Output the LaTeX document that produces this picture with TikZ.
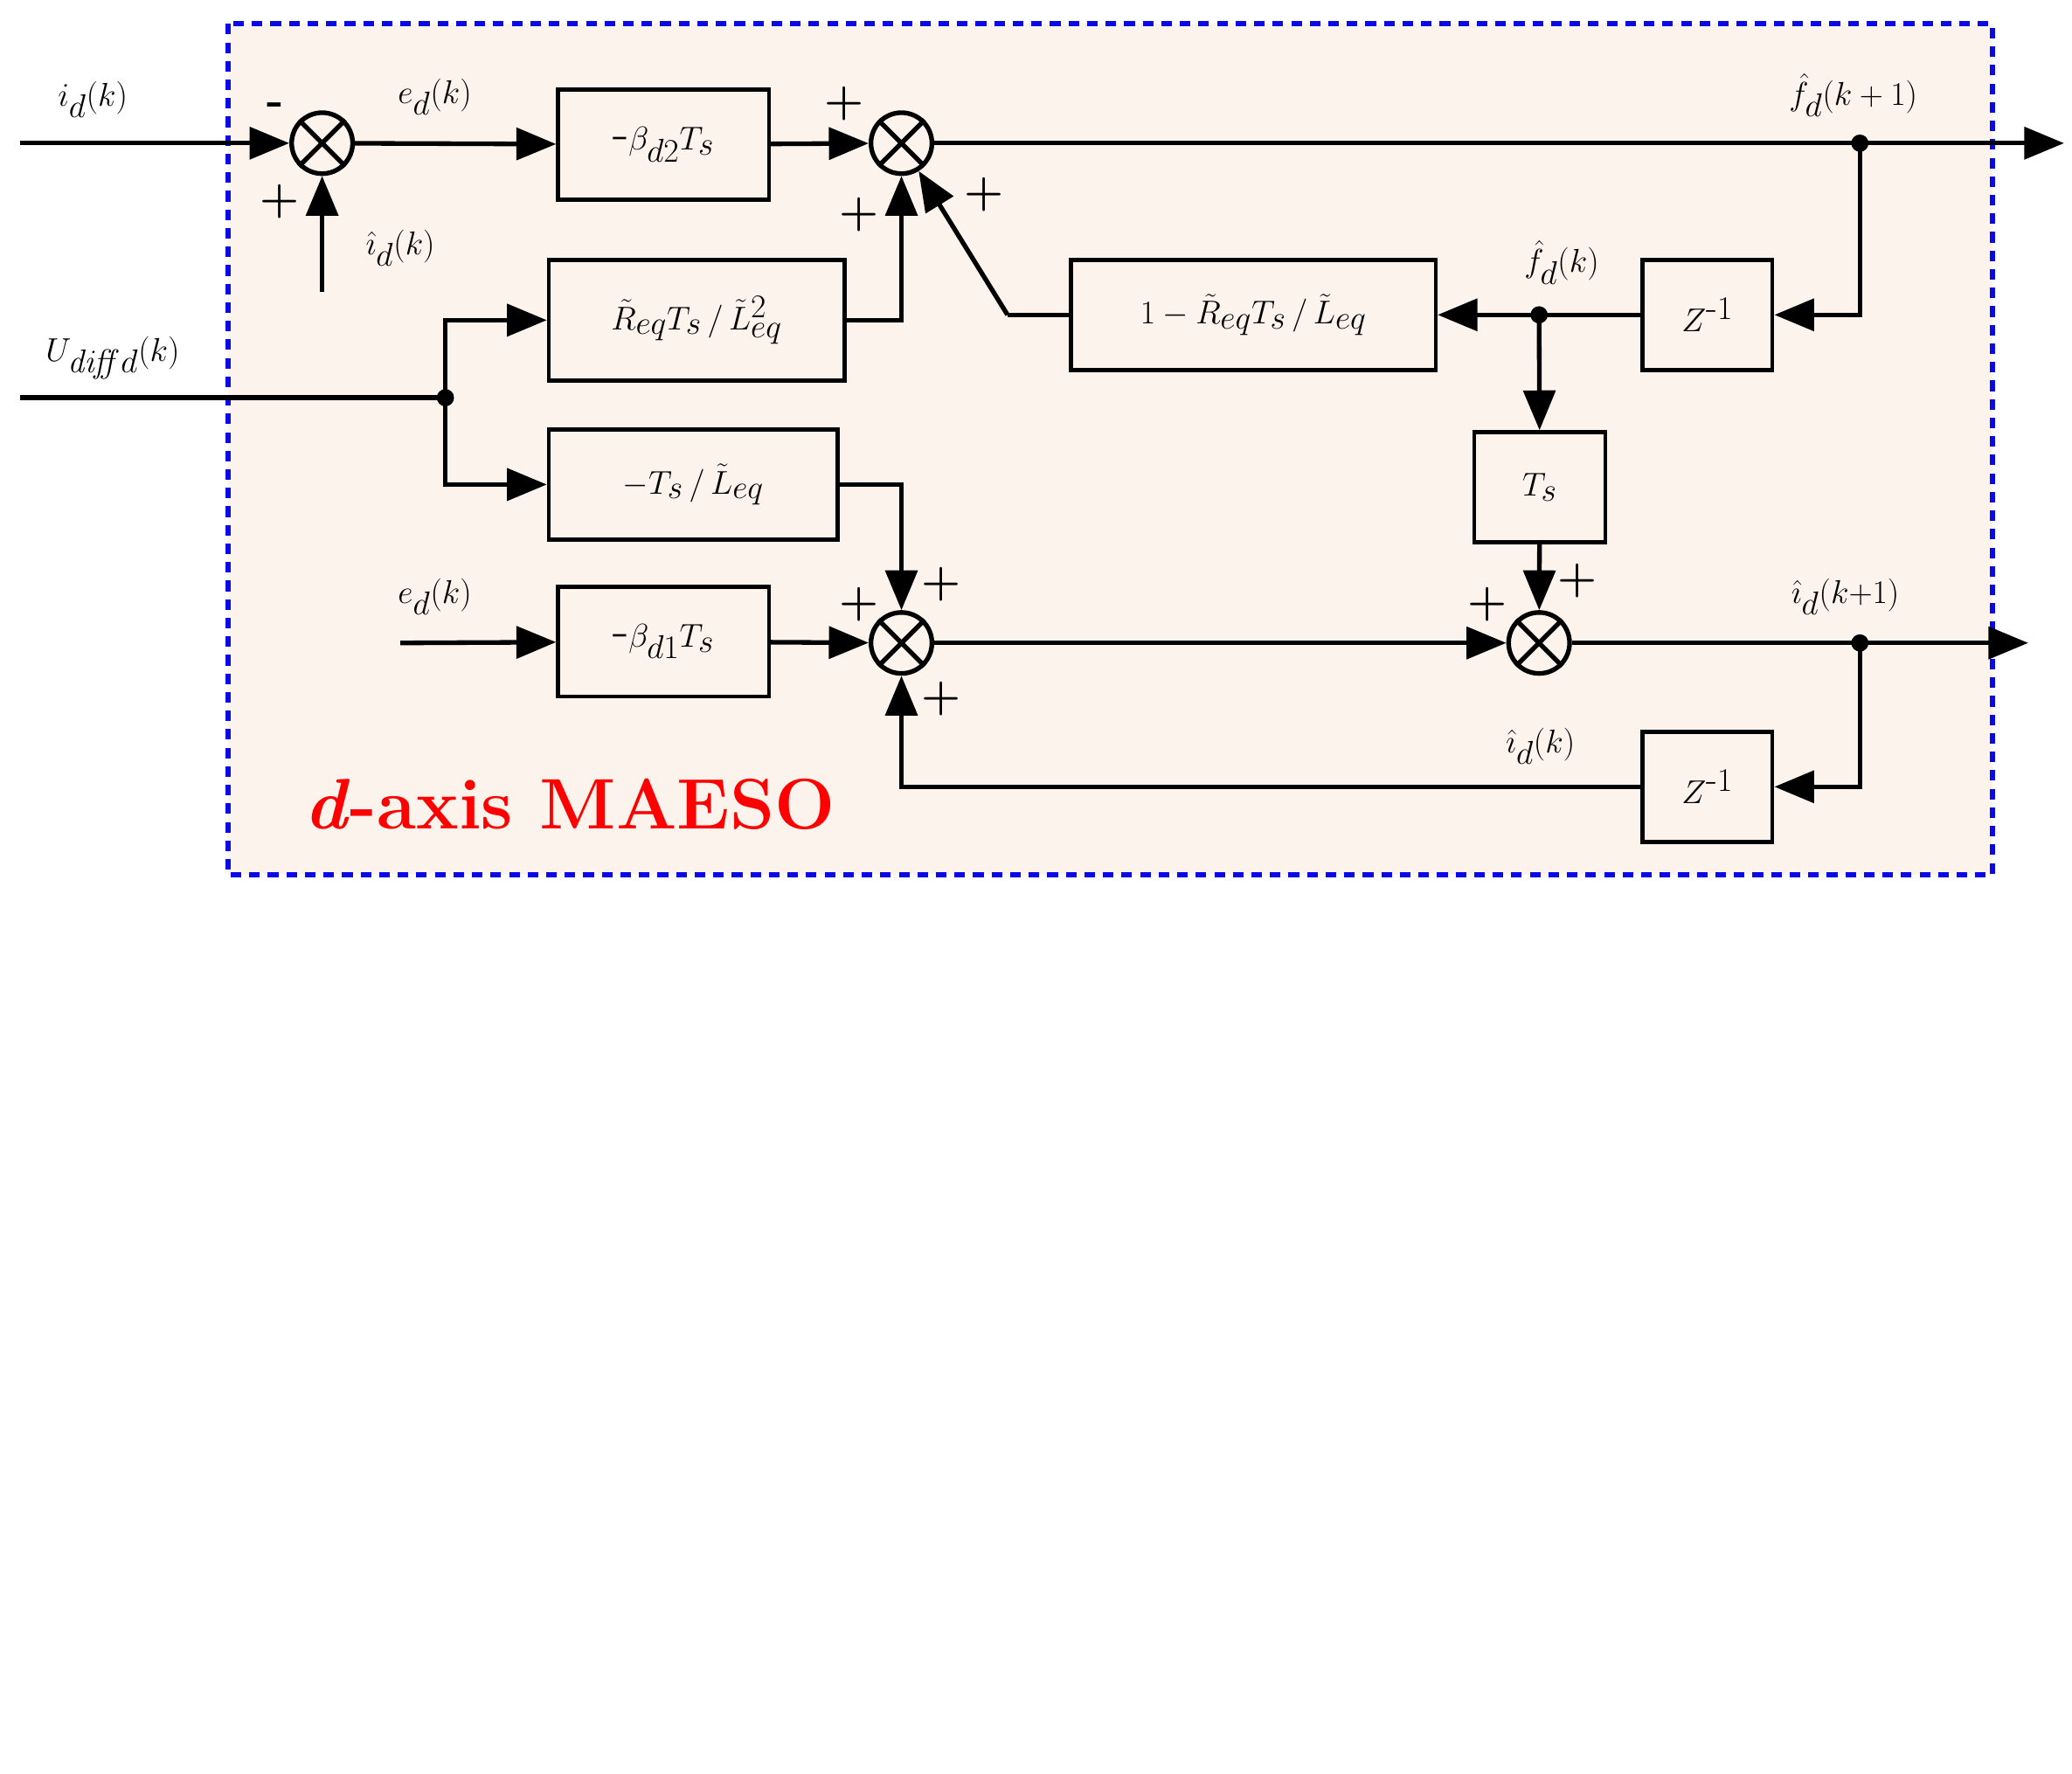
\documentclass[tikz,border=0pt]{standalone}
\usepackage{amsmath}
\usetikzlibrary{arrows.meta}
\definecolor{pch}{RGB}{252,243,237}
\definecolor{lbl}{RGB}{236,245,249}
\definecolor{bbl}{RGB}{10,10,230}
\tikzset{
 ln/.style={line width=3.5pt},
 ar/.style={ln,-{Triangle[length=30pt,width=24pt]}},
 blk/.style={draw,line width=3pt,inner sep=0,minimum height=83pt,font=\fontsize{40}{44}\selectfont},
 sum/.style={draw,circle,line width=3.5pt,minimum size=46pt,inner sep=0},
 dot/.style={circle,fill,inner sep=0,minimum size=13pt},
 lab/.style={font=\fontsize{40}{44}\selectfont,inner sep=0},
 pm/.style={font=\fontsize{34}{36}\selectfont\bfseries,inner sep=0},
 frame/.style={draw=bbl,line width=4pt,dash pattern=on 8pt off 6pt}
}
\newcommand\mypanel[5]{%
\begin{scope}[yshift=#2]
\fill[#3] (172,18) rectangle (1503,660);
\draw[frame] (172,18) rectangle (1503,660);
\node[sum] (a#1) at (243,108) {};
\node[sum] (b#1) at (680,108) {};
\node[sum] (c#1) at (680,485) {};
\node[sum] (e#1) at (1161,485) {};
\foreach \s in {a#1,b#1,c#1,e#1}{\draw[ln] (\s.north west)--(\s.south east) (\s.north east)--(\s.south west);}
\node[blk,minimum width=159pt] (B2#1) at (500.5,109) {$\text{-}\beta_{#1 2}T_s$};
\node[blk,minimum width=223pt,minimum height=91pt] (R#1) at (525.5,241.5) {$\tilde R_{eq}T_s\,/\,\tilde L_{eq}^2$};
\node[blk,minimum width=218pt] (T#1) at (523,365.5) {$-T_s\,/\,\tilde L_{eq}$};
\node[blk,minimum width=159pt] (B1#1) at (500.5,484) {$\text{-}\beta_{#1 1}T_s$};
\node[blk,minimum width=275pt] (F#1) at (945.5,237.5) {$1-\tilde R_{eq}T_s\,/\,\tilde L_{eq}$};
\node[blk,minimum width=98pt] (Z1#1) at (1288,237.5) {$Z^{\text{-}1}$};
\node[blk,minimum width=99pt] (Ts#1) at (1161.5,367.5) {$T_s$};
\node[blk,minimum width=98pt] (Z2#1) at (1288,593.5) {$Z^{\text{-}1}$};
\coordinate (in#1) at (15,108);
\coordinate (o1#1) at (1557,108);
\coordinate (dA#1) at (1403,108);
\coordinate (in2#1) at (15,300);
\coordinate (dU#1) at (336,300);
\coordinate (dF#1) at (1161,237.5);
\coordinate (o2#1) at (1530,485);
\coordinate (dI#1) at (1403,485);
\coordinate (fb#1) at (243,220);
\coordinate (ein#1) at (302,485);
\coordinate (dg#1) at (760,237.5);
\draw[ar] (in#1) -- (a#1);
\draw[ar] (fb#1) -- (a#1);
\draw[ar] (a#1) -- (B2#1);
\draw[ar] (B2#1) -- (b#1);
\draw[ar] (b#1) -- (o1#1);
\draw[ar] (dA#1) |- (Z1#1);
\draw[ar] (Z1#1) -- (F#1);
\draw[ar] (dF#1) -- (Ts#1);
\draw[ar] (Ts#1) -- (e#1);
\draw[ln] (F#1.west) -- (dg#1);
\draw[ar] (dg#1) -- (b#1);
\draw[ln] (in2#1) -- (dU#1);
\draw[ar] (dU#1) |- (R#1);
\draw[ar] (dU#1) |- (T#1);
\draw[ar] (R#1.east) -| (b#1);
\draw[ar] (T#1.east) -| (c#1);
\draw[ar] (ein#1) -- (B1#1);
\draw[ar] (B1#1) -- (c#1);
\draw[ar] (c#1) -- (e#1);
\draw[ar] (e#1) -- (o2#1);
\draw[ar] (dI#1) |- (Z2#1);
\draw[ar] (Z2#1.west) -| (c#1);
\foreach \p in {dA#1,dU#1,dF#1,dI#1}{\node[dot] at (\p) {};}
\node[lab] at (70,75) {$i_{#1}(k)$};
\node[lab] at (328,73) {$e_{#1}(k)$};
\node[lab] at (302,187) {$\hat{\imath}_{#1}(k)$};
\node[lab] at (85,270) {$U_{\mathit{diff}#1}(k)$};
\node[lab] at (1398,72) {#4$\hat f_{#1}(k+1)$};
\node[lab] at (1178,198) {$\hat f_{#1}(k)$};
\node[lab] at (328,450) {$e_{#1}(k)$};
\node[lab] at (1392,450) {#4$\hat{\imath}_{#1}(k{+}1)$};
\node[lab] at (1162,563) {$\hat{\imath}_{#1}(k)$};
\node[pm] at (208,82) {-};
\node[pm] at (211,152) {+};
\node[pm] at (637,78) {+};
\node[pm] at (742,147) {+};
\node[pm] at (648,162) {+};
\node[pm] at (710,441) {+};
\node[pm] at (648,456) {+};
\node[pm] at (710,527) {+};
\node[pm] at (1190,438) {+};
\node[pm] at (1122,456) {+};
\node[font=\fontsize{54}{60}\selectfont\bfseries,text=red,inner sep=0] at (430,607) {\textit{#1}-axis MAESO};
\end{scope}}
\begin{document}
\begin{tikzpicture}[x=1pt,y=-1pt]
\useasboundingbox (0,0) rectangle (1563,1338);
\mypanel{d}{0pt}{pch}{}
\mypanel{q}{-671pt}{lbl}{\boldmath}
\end{tikzpicture}
\end{document}
